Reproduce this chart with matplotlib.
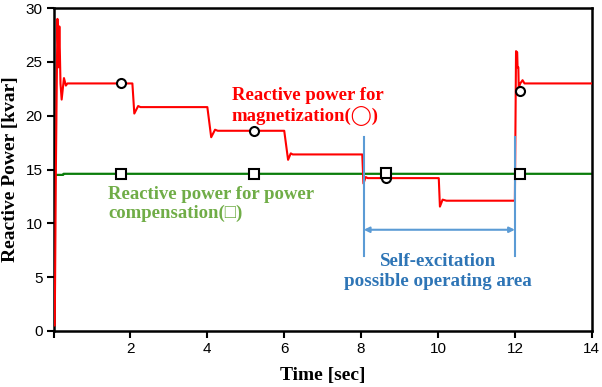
import matplotlib.pyplot as plt
from matplotlib.ticker import FixedLocator

# Reactive power for magnetization (red), breakpoints
red_t = [0.0, 0.03, 0.04, 0.06, 0.10, 0.13, 0.15, 0.18, 0.21, 0.27, 0.32, 0.36,
         2.05, 2.10, 2.20, 2.26,
         4.00, 4.10, 4.20, 4.27,
         6.00, 6.10, 6.17, 6.22,
         8.03, 8.06, 8.12, 8.17,
         10.02, 10.05, 10.12, 10.22,
         12.00, 12.03, 12.06, 12.07, 12.09, 12.10, 12.14, 12.20, 12.25, 14.0]
red_q = [0.5, 0.5, 5.0, 15.0, 29.0, 24.5, 28.3, 23.0, 21.5, 23.5, 22.8, 23.0,
         23.0, 20.2, 20.9, 20.8,
         20.8, 18.0, 18.7, 18.6,
         18.6, 15.9, 16.5, 16.4,
         16.4, 13.7, 14.3, 14.2,
         14.2, 11.55, 12.2, 12.1,
         12.1, 26.0, 25.9, 24.5, 24.5, 22.6, 23.0, 23.3, 23.0, 23.0]

# Reactive power for power compensation (green)
green_t = [0.0, 0.01, 0.25, 0.26, 14.0]
green_q = [0.0, 14.5, 14.5, 14.6, 14.6]

# marker positions
circle_t = [1.75, 5.22, 8.66, 12.13]
circle_q = [23.0, 18.6, 14.2, 22.3]
square_t = [1.75, 5.22, 8.66, 12.13]
square_q = [14.6, 14.6, 14.7, 14.6]

x_ticks = [0, 2, 4, 6, 8, 10, 12, 14]
x_labels = ['', '2', '4', '6', '8', '10', '12', '14']
y_ticks = [0, 5, 10, 15, 20, 25, 30]

serif = 'Liberation Serif'
sans = 'Liberation Sans'

fig = plt.figure(figsize=(6.02, 3.87), dpi=100)
ax = fig.add_axes([0.089, 0.145, 0.894, 0.834])

ax.plot(red_t, red_q, color='#ff0000', lw=1.5, zorder=3)
ax.plot(green_t, green_q, color='#0a7d0a', lw=1.6, zorder=2)
ax.plot(circle_t, circle_q, 'o', ms=6.5, mfc='white', mec='black', mew=1.5, zorder=5)
ax.plot(square_t, square_q, 's', ms=6.5, mfc='white', mec='black', mew=1.5, zorder=5)

# self-excitation area marker
blue = '#5b9bd5'
ax.plot([8.07, 8.07], [7.0, 18.0], color=blue, lw=1.5, zorder=4)
ax.plot([12.0, 12.0], [7.0, 18.0], color=blue, lw=1.5, zorder=4)
ax.annotate('', xy=(8.07, 9.4), xytext=(12.0, 9.4),
            arrowprops=dict(arrowstyle='<|-|>', color=blue, lw=1.5,
                            shrinkA=0, shrinkB=0, mutation_scale=8))

ax.text(4.64, 20.85, 'Reactive power for\nmagnetization(\u25ef)', color='#ff0000',
        fontsize=13.5, fontweight='bold', family=[serif, 'DejaVu Sans'],
        ha='left', va='center', linespacing=1.15)
ax.text(1.42, 11.8, 'Reactive power for power\ncompensation(\u25a1)', color='#70ad47',
        fontsize=13.5, fontweight='bold', family=[serif, 'DejaVu Sans'],
        ha='left', va='center', linespacing=1.15)
ax.text(10.0, 5.5, 'Self-excitation\npossible operating area', color='#2e75b6',
        fontsize=13.7, fontweight='bold', family=serif,
        ha='center', va='center', linespacing=1.2)

ax.set_xlim(0, 14)
ax.set_ylim(0, 30)
ax.xaxis.set_major_locator(FixedLocator(x_ticks))
ax.set_xticklabels(x_labels)
ax.yaxis.set_major_locator(FixedLocator(y_ticks))
for s in ax.spines.values():
    s.set_linewidth(1.8)
ax.tick_params(direction='out', length=5, width=1.5, labelsize=11, pad=3)
for lab in ax.get_xticklabels() + ax.get_yticklabels():
    lab.set_family(sans)

ax.set_xlabel('Time [sec]', fontsize=14, fontweight='bold', family=serif, labelpad=8)
ax.set_ylabel('Reactive Power [kvar]', fontsize=14, fontweight='bold', family=serif, labelpad=5)

fig.savefig('out.png', dpi=100)
